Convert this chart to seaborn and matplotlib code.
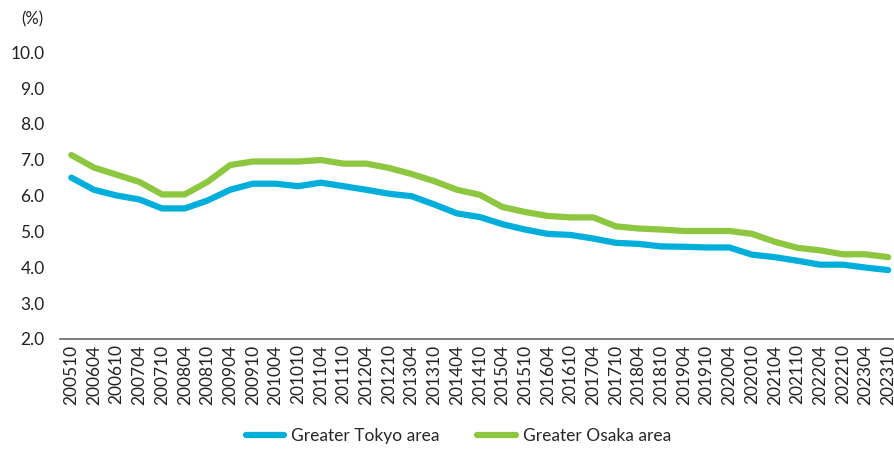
import pandas as pd
import numpy as np
import matplotlib
matplotlib.use("Agg")
import matplotlib.pyplot as plt
import seaborn as sns

# 期間ラベル
periods = ["200510", "200604", "200610", "200704", "200710", "200804", "200810",
           "200904", "200910", "201004", "201010", "201104", "201110", "201204",
           "201210", "201304", "201310", "201404", "201410", "201504", "201510",
           "201604", "201610", "201704", "201710", "201804", "201810", "201904",
           "201910", "202004", "202010", "202104", "202110", "202204", "202210",
           "202304", "202310"]

# 首都圏
tokyo = [6.50, 6.16, 6.00, 5.89, 5.64, 5.64, 5.86, 6.16, 6.33, 6.33, 6.26, 6.36,
         6.26, 6.16, 6.05, 5.98, 5.75, 5.50, 5.40, 5.20, 5.05, 4.93, 4.90, 4.80,
         4.68, 4.65, 4.58, 4.57, 4.55, 4.55, 4.35, 4.28, 4.18, 4.07, 4.07, 3.99,
         3.92]

# 関西圏
osaka = [7.13, 6.78, 6.58, 6.38, 6.03, 6.03, 6.38, 6.85, 6.95, 6.95, 6.95, 6.99,
         6.89, 6.89, 6.77, 6.60, 6.40, 6.16, 6.02, 5.68, 5.54, 5.43, 5.39, 5.39,
         5.14, 5.08, 5.05, 5.01, 5.01, 5.01, 4.93, 4.71, 4.54, 4.47, 4.36, 4.36,
         4.28]

series_names = ["Greater Tokyo area", "Greater Osaka area"]
colors = ["#00AEDB", "#8DC63F"]

df = pd.DataFrame({
    "idx": list(range(len(periods))) * 2,
    "value": tokyo + osaka,
    "area": [series_names[0]] * len(periods) + [series_names[1]] * len(periods),
})

sns.set_style("white")
plt.rcParams["font.family"] = ["Lato", "DejaVu Sans"]

fig = plt.figure(figsize=(8.95, 4.5), dpi=100)
ax = fig.add_axes([0.067, 0.247, 0.933, 0.637])

sns.lineplot(data=df, x="idx", y="value", hue="area", palette=colors,
             linewidth=4.5, ax=ax, solid_capstyle="round")

ax.set_xlim(-0.5, 36.3)
ax.set_ylim(2, 10)
ax.set_yticks(np.arange(2, 10.1, 1))
ax.set_yticklabels([f"{v:.1f}" for v in np.arange(2, 10.1, 1)], fontsize=12.5, color="#222222")
ax.set_xticks(range(len(periods)))
ax.set_xticklabels(periods, rotation=90, fontsize=12.5, color="#222222")
ax.tick_params(axis="x", length=0, pad=4)
ax.tick_params(axis="y", length=0, pad=11)
ax.set_xlabel("")
ax.set_ylabel("")

for s in ["top", "right", "left"]:
    ax.spines[s].set_visible(False)
ax.spines["bottom"].set_color("#666666")
ax.spines["bottom"].set_linewidth(1.2)

fig.text(0.024, 0.958, "(%)", fontsize=12, color="#222222", va="center")

ax.legend(loc="center", bbox_to_anchor=(0.477, -0.34), ncol=2, frameon=False,
          fontsize=12.5, handlelength=2.2, handletextpad=0.4, columnspacing=2.2)

fig.savefig("out.png", dpi=100)
